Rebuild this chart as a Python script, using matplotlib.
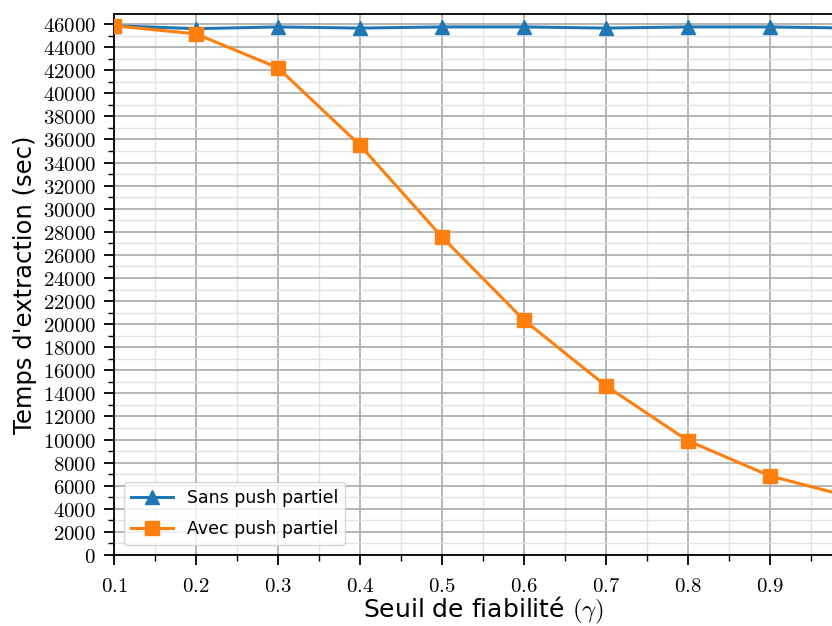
import matplotlib
matplotlib.use("Agg")
import matplotlib.pyplot as plt
from matplotlib.ticker import MultipleLocator, FuncFormatter

plt.rcParams['mathtext.fontset'] = 'cm'
plt.rcParams['font.family'] = ['DejaVu Sans']

gamma = [0.1, 0.2, 0.3, 0.4, 0.5, 0.6, 0.7, 0.8, 0.9, 1.0]
sans_push = [45850, 45600, 45750, 45650, 45750, 45750, 45650, 45750, 45750, 45650]
avec_push = [45850, 45150, 42200, 35500, 27550, 20350, 14650, 9900, 6850, 5000]
xticks = [0.1, 0.2, 0.3, 0.4, 0.5, 0.6, 0.7, 0.8, 0.9]
yticks = list(range(0, 46001, 2000))

fig = plt.figure(figsize=(8.32, 6.26), dpi=100)
ax = fig.add_axes([114/832, 71/626, 738/832, 541/626])

ax.plot(gamma, sans_push, color='#1f77b4', marker='^', markersize=10, lw=2.2,
        label='Sans push partiel', zorder=3)
ax.plot(gamma, avec_push, color='#ff7f0e', marker='s', markersize=10, lw=2.2,
        label='Avec push partiel', zorder=3)

ax.set_xlim(0.1, 1.0)
ax.set_ylim(0, 46870)
ax.set_xticks(xticks)
ax.set_yticks(yticks)
ax.xaxis.set_minor_locator(MultipleLocator(0.05))
ax.yaxis.set_minor_locator(MultipleLocator(1000))
ax.xaxis.set_major_formatter(FuncFormatter(lambda v, p: r'$%.1f$' % v))
ax.yaxis.set_major_formatter(FuncFormatter(lambda v, p: r'$%d$' % int(round(v))))
ax.tick_params(axis='both', which='major', labelsize=15, length=7, width=1.3, direction='out')
ax.tick_params(axis='both', which='minor', length=4, width=1.0, direction='out')
ax.tick_params(axis='x', which='major', pad=8)
ax.tick_params(axis='y', which='major', pad=6)

ax.grid(which='major', color='#b0b0b0', lw=1.3)
ax.grid(which='minor', color='#e2e2e2', lw=1.0)
ax.set_axisbelow(True)
for s in ax.spines.values():
    s.set_linewidth(1.3)
    s.set_color('black')

ax.set_xlabel(r'Seuil de fiabilité $(\gamma)$', fontsize=18, labelpad=-1)
ax.set_ylabel("Temps d'extraction (sec)", fontsize=17.5, labelpad=4)

ax.legend(loc='lower left', fontsize=12.5, borderaxespad=0.6, handlelength=2.4,
          labelspacing=0.75)

fig.savefig('out.png', dpi=100)
